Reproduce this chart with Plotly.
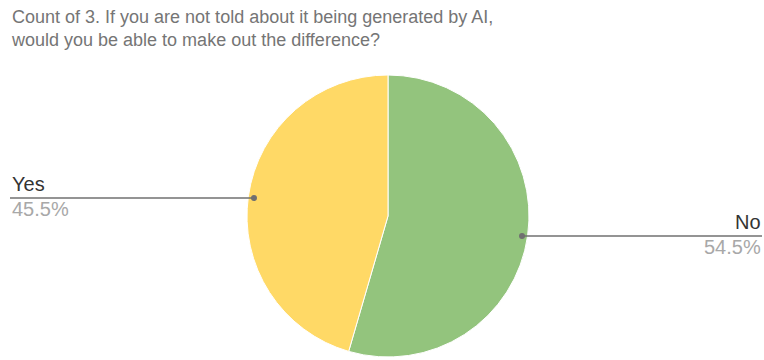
import math
import plotly.graph_objects as go

# ---- data ----
labels = ["No", "Yes"]
values = [54.5, 45.5]
colors = ["#93C47D", "#FFD966"]
title_text = ("Count of 3. If you are not told about it being generated by AI,<br>"
              "would you be able to make out the difference?")

W, H = 764, 360
cx, cy, r = 388, 216, 141  # pie centre / radius in pixels

fig = go.Figure(go.Pie(
    labels=labels, values=values, sort=False, direction="clockwise", rotation=0,
    marker=dict(colors=colors, line=dict(color="white", width=1)),
    textinfo="none", hoverinfo="label+percent", showlegend=False,
    domain=dict(x=[(cx - r) / W, (cx + r) / W], y=[(H - cy - r) / H, (H - cy + r) / H]),
))

def px(x):
    return x / W

def py(y):
    return 1 - y / H

FONT = "Liberation Sans, Arial, sans-serif"

shapes, annotations = [], []
total = sum(values)
cum = 0.0
for lab, v in zip(labels, values):
    mid = (cum + v / 2) / total * 2 * math.pi
    cum += v
    ex = cx + 0.96 * r * math.sin(mid)
    ey = cy - 0.96 * r * math.cos(mid) + 1
    pct = f"{v / total * 100:.1f}%"
    if math.sin(mid) >= 0:
        x0, x1, anchor, tx = ex, 762, "right", 763
    else:
        x0, x1, anchor, tx = 10, ex, "left", 10
    shapes.append(dict(type="line", xref="paper", yref="paper",
                       x0=px(x0), x1=px(x1), y0=py(ey), y1=py(ey),
                       line=dict(color="#707070", width=1.6)))
    shapes.append(dict(type="circle", xref="paper", yref="paper",
                       x0=px(ex - 3), x1=px(ex + 3), y0=py(ey - 3), y1=py(ey + 3),
                       fillcolor="#707070", line=dict(width=0)))
    annotations.append(dict(text=lab, xref="paper", yref="paper", x=px(tx), y=py(ey - 1),
                            xanchor=anchor, yanchor="bottom", showarrow=False,
                            font=dict(family=FONT, size=20, color="#333333")))
    annotations.append(dict(text=pct, xref="paper", yref="paper", x=px(tx), y=py(ey - 2),
                            xanchor=anchor, yanchor="top", showarrow=False,
                            font=dict(family=FONT, size=20, color="#a8a8a8")))

annotations.append(dict(text=title_text, xref="paper", yref="paper", x=px(9), y=py(5),
                        xanchor="left", yanchor="top", align="left", showarrow=False,
                        font=dict(family=FONT, size=18, color="#757575")))

fig.update_layout(width=W, height=H, margin=dict(l=0, r=0, t=0, b=0),
                  paper_bgcolor="white", plot_bgcolor="white",
                  shapes=shapes, annotations=annotations)

fig.write_html("out.html")
